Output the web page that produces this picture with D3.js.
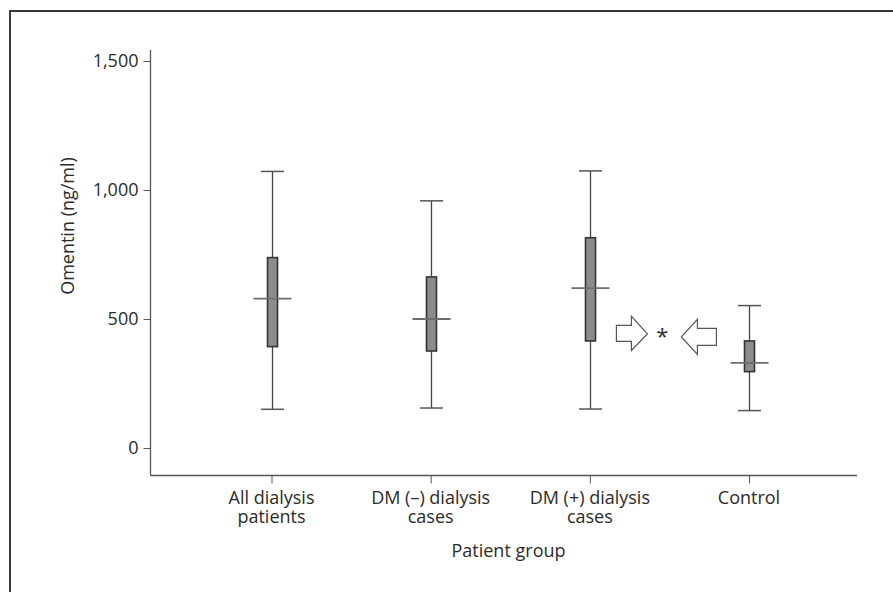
<!DOCTYPE html>
<html>
<head>
<meta charset="utf-8">
<script src="https://cdn.jsdelivr.net/npm/d3@7"></script>
<style>
  html, body { margin: 0; padding: 0; background: #fff; }
  svg { display: block; }
  text { font-family: "Open Sans", "Noto Sans", sans-serif; fill: #2b2b2b; }
</style>
</head>
<body>
<svg id="chart" width="893" height="592"></svg>
<script>
// ---- data ----
const categories = ["All dialysis patients", "DM (–) dialysis cases", "DM (+) dialysis cases", "Control"];
const categoryLines = [["All dialysis", "patients"], ["DM (–) dialysis", "cases"], ["DM (+) dialysis", "cases"], ["Control"]];
const whiskerLow  = [150, 155, 151, 145];
const q1          = [393, 376, 415, 296];
const median      = [579, 500, 620, 330];
const q3          = [738, 663, 815, 415];
const whiskerHigh = [1072, 958, 1074, 552];
const yTicks = [0, 500, 1000, 1500];
const yLabel = "Omentin (ng/ml)";
const xLabel = "Patient group";
const significanceMark = "*";
const significanceValue = 450;

// ---- layout ----
const svg = d3.select("#chart");
const axisX = 150.5, axisBottom = 475.5, axisTop = 50, axisRight = 857;
const fs = 18;

const x = d3.scalePoint().domain(categories).range([271.5, 749]);
const y = d3.scaleLinear().domain([0, 1500]).range([448, 61]);

// frame (top + left border)
svg.append("path")
  .attr("d", `M10,592 L10,11 L893,11`)
  .attr("fill", "none").attr("stroke", "#3a3a3a").attr("stroke-width", 2);

// y axis
const yAxis = d3.axisLeft(y).tickValues(yTicks).tickFormat(d3.format(",")).tickSize(7).tickPadding(5);
const gy = svg.append("g").attr("transform", `translate(${axisX},0)`).call(yAxis);
gy.select(".domain").remove();
gy.selectAll(".tick line").attr("stroke", "#555");
gy.selectAll(".tick text").attr("font-size", fs).attr("fill", "#2b2b2b")
  .style("font-family", '"Open Sans", sans-serif');
svg.append("line").attr("x1", axisX).attr("x2", axisX).attr("y1", axisTop).attr("y2", axisBottom)
  .attr("stroke", "#555").attr("stroke-width", 1.3);

// x axis
const xAxis = d3.axisBottom(x).tickSize(8).tickFormat("");
const gx = svg.append("g").attr("transform", `translate(0,${axisBottom})`).call(xAxis);
gx.select(".domain").remove();
gx.selectAll(".tick line").attr("stroke", "#555");
svg.append("line").attr("x1", axisX).attr("x2", axisRight).attr("y1", axisBottom).attr("y2", axisBottom)
  .attr("stroke", "#555").attr("stroke-width", 1.3);

// category labels
categories.forEach((c, i) => {
  categoryLines[i].forEach((ln, j) => {
    svg.append("text").attr("x", x(c)).attr("y", 503.5 + j * 19.5)
      .attr("text-anchor", "middle").attr("font-size", fs).text(ln);
  });
});

// axis titles
svg.append("text").attr("x", 508.5).attr("y", 556.5).attr("text-anchor", "middle")
  .attr("font-size", fs).text(xLabel);
svg.append("text").attr("transform", "translate(74,226) rotate(-90)")
  .attr("text-anchor", "middle").attr("font-size", fs).text(yLabel);

// boxes
const boxW = 10, capW = 23, medW = 38;
const g = svg.append("g");
categories.forEach((c, i) => {
  const cx = Math.round(x(c)) + 0.5;
  g.append("line").attr("x1", cx).attr("x2", cx).attr("y1", y(whiskerLow[i])).attr("y2", y(whiskerHigh[i]))
    .attr("stroke", "#444").attr("stroke-width", 1.3);
  [whiskerLow[i], whiskerHigh[i]].forEach(v => {
    g.append("line").attr("x1", cx - capW / 2).attr("x2", cx + capW / 2).attr("y1", y(v)).attr("y2", y(v))
      .attr("stroke", "#555").attr("stroke-width", 1.5);
  });
  g.append("rect").attr("x", cx - boxW / 2).attr("width", boxW)
    .attr("y", y(q3[i])).attr("height", y(q1[i]) - y(q3[i]))
    .attr("fill", "#8c8c90").attr("stroke", "#333").attr("stroke-width", 1.6);
  g.append("line").attr("x1", cx - medW / 2).attr("x2", cx + medW / 2).attr("y1", y(median[i])).attr("y2", y(median[i]))
    .attr("stroke", "#6e6e6e").attr("stroke-width", 1.8);
});

// significance annotation between DM(+) and Control
const xa = x(categories[2]), xb = x(categories[3]);
const mid = (xa + xb) / 2;
const ys = y(significanceValue);
const rTip = [mid - 22, ys + 2];
const rightArrow = [[0,0],[-16,-17.5],[-16,-8.5],[-31,-8.5],[-31,7.5],[-16,7.5],[-16,16.5]];
svg.append("path")
  .attr("d", "M" + rightArrow.map(p => [rTip[0] + p[0], rTip[1] + p[1]].join(",")).join("L") + "Z")
  .attr("fill", "#fff").attr("stroke", "#555").attr("stroke-width", 1.2);
const lTip = [mid + 12, ys + 5];
const leftArrow = [[0,0],[16,-17.5],[16,-8.5],[35,-8.5],[35,8.5],[16,8.5],[16,17.5]];
svg.append("path")
  .attr("d", "M" + leftArrow.map(p => [lTip[0] + p[0], lTip[1] + p[1]].join(",")).join("L") + "Z")
  .attr("fill", "#fff").attr("stroke", "#555").attr("stroke-width", 1.2);
svg.append("text").attr("x", mid - 7).attr("y", ys + 12).attr("text-anchor", "middle")
  .attr("font-size", 22).text(significanceMark);
</script>
</body>
</html>
